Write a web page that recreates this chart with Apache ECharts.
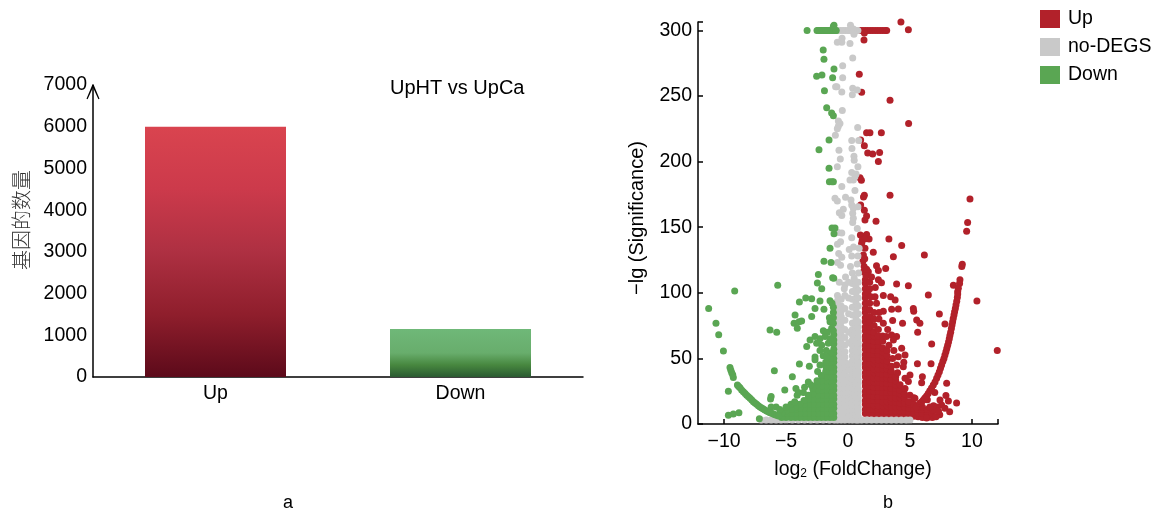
<!DOCTYPE html>
<html><head><meta charset="utf-8">
<script src="https://cdn.jsdelivr.net/npm/echarts@6/dist/echarts.min.js"></script>
<style>html,body{margin:0;padding:0;background:#fff}#c{width:1158px;height:514px}</style>
</head><body><div id="c"></div>
<script>
const barCategories = ['Up','Down'];
const barValues = [6000,1150];
const countTicks = [0,1000,2000,3000,4000,5000,6000,7000];
const fcTicks = [-10,-5,0,5,10];
const sigTicks = [0,50,100,150,200,250,300];

// [x, [y, y, ...]] dense bands
const upBands = [
[1.4,[8,11,15,18,22,25,29,32,36,39,43,46,50,53,57,60,64,67,71,74,78,81,85,88,92,96,99,103,107,110]],
[1.75,[8,11,15,18,22,25,29,32,36,39,43,46,50,53,57,60,64,67,71,74,78,82,87,92,103,108]],
[2.1,[7.5,11,14,18,21,25,28,32,35,39,42,46,49,53,56,60,63,67,70,75,80,85]],
[2.45,[7.5,11,14,18,21,25,28,32,35,39,42,46,49,53,56,60,63,67,72]],
[2.8,[7.5,10,14,17,21,24,28,31,35,38,42,45,49,52,55,58,63,67]],
[3.15,[7,10,14,17,21,24,28,31,35,38,42,45,48,52,56]],
[3.5,[7,10,13,17,20,24,27,31,34,38,40,44]],
[3.85,[7,10,13,17,20,24,27,30,33,36]],
[4.2,[6.5,10,13,16,20,23,26,30]],
[4.55,[6.5,9.5,13,16,20,23]],
[4.9,[6,9,12,15,17]],
[5.3,[6,9,12,15]],
[5.65,[5.5,8.5,11,14]],
[6.0,[5,8,11,13]],
[6.4,[5,8,11]],
[6.8,[5,8]]
];
const upPoints = [
[4.27,306.4],[4.87,300.4],[1.0,300],[1.2,300],[1.4,300],[1.6,300],[1.8,300],[2.0,300],[2.2,300],[2.4,300],[2.6,300],[2.8,300],[3.0,300],[3.12,300],
[1.32,298],[1.29,292.7],[0.91,266.5],[1.1,252.8],[3.39,246.7],[4.89,229],[1.5,222],[1.77,222],[2.69,222],[1.02,216.5],[1.32,212],[1.59,206.6],[1.99,205.8],[2.55,207],[2.45,200],
[0.97,187.7],[1.08,185.7],[1.32,174.3],[1.25,173],[3.39,174.3],[9.84,171.5],[1.02,167],[1.32,163],[1.5,158.5],[1.37,155.5],[2.26,154.5],[9.65,153.6],[9.57,147],
[1.0,144],[1.2,143],[1.5,144.5],[1.7,141],[1.15,140],[1.35,141],[3.3,141],
[1.1,137.7],[1.37,134],[1.24,128.8],[2.04,131],[3.66,127.5],[4.33,136],[6.16,128.8],[9.22,121.7],[9.18,120],[9.03,110],[9.0,107],[8.5,105.7],[8.9,103.4],[8.85,101],[10.4,93.8],[12.04,56],
[2.3,120.7],[3.04,118.6],[2.45,117],[1.64,116],[1.3,120],[1.2,124],[1.25,116],[1.45,113],[1.9,112],[2.7,107.7],[3.92,106.7],[4.87,105.4],[6.48,98.3],[2.18,97],[2.85,98],[3.44,97],[3.8,94.5],[2.3,92],[1.6,100],[1.85,97],[2.2,104],[2.45,110],[1.5,118],[1.35,126],
[5.27,88],[5.3,86],[3.52,87.4],[4.06,87.7],[2.85,86],[2.5,85],[7.37,83.8],[5.54,79.3],[5.8,76.7],[7.82,76.2],[4.4,76.7],[3.6,78.8],[2.85,76.7],[2.5,80],[3.2,72],
[5.62,69.9],[3.52,67.8],[3.92,66.6],[3.66,64],[3.1,66.6],[3.3,60],[6.75,61],[4.33,57.7],[4.6,52.6],[4.06,51.3],[3.7,56],[3.6,50],[4.5,47],
[5.6,46],[6.7,46],[4.46,43.7],[3.92,45],[4.0,39],[5,37.3],[6,36],[5.94,31.5],[7.96,31],[4.6,34.8],[4.87,32.3],[4.6,27],[5.0,22],[5.3,20],[7,24],[7.9,21.8],[5.4,19.6],[6.4,18.5],[7.42,18.3],[8.1,17.5],[8.76,16],[7.55,14.5],[7.82,12],[8.2,9.4],[7.15,13],[6.9,10.2],[7.4,7],[6.34,4.6],[6.9,14],[7.1,5.5],[6.6,13],[7.3,10],
[5.5,13],[5.8,15.8],[5.95,17],[6.08,18.3],[6.2,19.8],[6.34,21.3],[6.47,23.3],[6.6,25.4],[6.74,27.5],[6.88,29.7],[7.02,32],[7.15,34.8],[7.26,37.4],[7.37,39.9],[7.46,42.5],[7.55,45],[7.65,47.6],[7.74,50],[7.82,52.5],[7.9,55],[7.97,57.5],[8.04,60],[8.11,62.5],[8.17,65],[8.22,67.5],[8.28,70],[8.34,72.8],[8.39,75.5],[8.44,78],[8.49,80.5],[8.55,83],[8.6,85.6],[8.66,88],[8.71,90.7],[8.77,93.6],[8.82,96.5],[8.85,99]
];
const noneBands = [
[-0.85,[3,6,10,13,17,20,24,27,31,34,38,41,45,48,52,55,59,62,66,69,73,76,80,84,87,91,94,98]],
[-0.55,[3,6,10,13,17,20,24,27,31,34,38,41,45,48,52,55,59,62,66,70,74,78,82,86,90,95]],
[-0.25,[3,6,10,13,17,20,24,27,31,35,39,43,47,51,55,60,66,72,79,88,98,106]],
[0.05,[3,6,10,13,17,20,24,28,32,36,41,46,62,70,84,96,108]],
[0.35,[3,6,10,13,17,20,24,27,31,34,38,41,45,48,52,56,60,64,68,72,77,83,89,95,101,107]],
[0.65,[3,6,10,13,17,20,24,27,31,34,38,41,45,48,52,55,59,62,66,69,73,76,80,84,88,92,96,100,104,108]],
[0.82,[3,6,10,13,17,20,24,27,31,34,38,41,45,48,52,55,59,62,66,70,74,78,84,90,96,102,108]]
];
const nonePoints = [
[-0.8,300],[-0.6,300],[-0.4,300],[-0.2,300],[0,300],[0.1,300],[0.2,300],[0.3,300],[0.4,300],[0.5,300],[0.6,300],[0.7,300],[0.8,300],[0.2,304],[0.43,301],[0.48,297],
[-0.48,294],[-0.5,291],[-0.86,291],[0.16,290],[0.38,279],[-0.43,273],[-0.43,264],[-0.9,257],[-1.0,257],[0.38,256],[0.75,254.6],[-0.5,253],[0.35,251],
[-0.46,239],[-0.78,231],[-0.65,229],[-0.78,227],[-0.86,225],[0.78,226],[-1.02,220],[0.3,216],[0.86,216],[-0.73,208.6],[0.32,210],[0.48,204],[0.5,201],[-0.62,202],[-0.86,196],[0.8,196],
[0.3,191.6],[0.65,190.5],[0.16,186],[0.43,186],[0.56,188.5],[-0.5,181],[0.56,178],[-1.05,172],[-0.86,170],[-0.2,172.8],[0.24,170.7],[0.3,167],[0.43,164.4],[0.8,165.6],[-0.38,163.6],[-0.7,161],[-0.5,159],[0.38,160.6],[0.43,156.8],[0.38,153.5],[0.75,149],[-0.5,145.6],[-0.8,146],[0.3,142],
[-0.85,137],[-0.6,139],[-0.75,130],[-0.5,127],[-0.85,123],[-0.6,121],[0.1,133],[0.3,128],[0.45,135],[0.9,134],[0.8,128],[0.2,120],[0.35,115],[0.75,122],[0.85,115],[-0.2,112],[-0.7,108],[-0.3,103],[0.5,111],
[-7.0,3],[-6.6,3],[-6.2,3],[-5.8,3],[-5.4,3],[-5,3],[-4.5,3],[-4,3],[-3.5,3],[-3,3],[-2.5,3],[-2,3],[-1.5,3],[-1.1,3],
[1.1,3],[1.5,3],[1.9,3],[2.3,3],[2.7,3],[3.1,3],[3.5,3],[3.9,3],[4.3,3],[4.7,3],[5.0,3]
];
const downBands = [
[-1.15,[5,8,12,15,19,22,26,29,33,36,40,43,47,50,54,57,61,64,68]],
[-1.45,[5,8,12,15,19,22,26,29,33,36,40,43,47,50,54]],
[-1.8,[5,8,12,15,19,22,26,29,33,36,40,44,47]],
[-2.15,[5,8,12,15,19,22,26,29,33,37]],
[-2.5,[5,8,12,15,19,22,26,30,33]],
[-2.85,[5,8,12,15,19,23,27]],
[-3.2,[5,8,12,15,19,22]],
[-3.55,[5,8,12,15,18]],
[-3.9,[5,8,12,15]],
[-4.25,[5,8,11,13]],
[-4.6,[5,8,11]],
[-5,[5,8,10]],
[-5.35,[5,8]]
];
const downPoints = [
[-3.3,300],[-2.5,300],[-2.4,300],[-2.3,300],[-2.2,300],[-2.1,300],[-2.0,300],[-1.9,300],[-1.8,300],[-1.7,300],[-1.6,300],[-1.5,300],[-1.4,300],[-1.3,300],[-1.2,300],[-1.1,300],[-1.0,300],[-0.95,300],[-1.13,304],[-1.18,303],
[-2.0,285],[-1.94,278],[-1.13,270.5],[-2.53,265],[-2.1,266],[-1.24,264],[-1.9,254],[-1.72,241],[-1.32,237],[-1.18,235],[-1.53,216.5],[-2.34,209],[-1.53,195],[-1.5,184.7],[-1.3,184.7],[-1.18,184.7],[-1.29,149.4],[-1.05,149.4],[-1.13,145],
[-1.45,134],[-1.94,124],[-1.37,123],[-2.39,114],[-1.24,111.5],[-1.15,111],[-2.47,107.5],[-2.12,103],[-5.67,105.7],[-9.14,101.4],[-11.24,88],[-10.65,76.7],[-10.43,68],[-10.05,55.6],[-9.65,25],[-9.65,6.6],[-9.25,7.6],[-8.8,8.6],[-7.15,4],
[-3.41,96],[-2.93,95.5],[-3.92,93],[-2.26,93.7],[-1.45,94],[-1.29,92],[-1.18,89],[-1.18,85],[-2.66,88],[-1.94,87.4],[-4.27,83],[-2.93,82],[-1.5,81],[-1.18,81],[-3.74,78.5],[-4.35,76.7],[-3.95,78],[-4.09,73],[-1.45,78],[-1.18,76.7],[-6.29,71.6],[-5.75,69.9],[-1.99,71],[-1.67,70],[-1.32,73],[-1.18,71],
[-2.66,66.6],[-2.26,65],[-3.06,64],[-1.85,66.6],[-1.45,65],[-3.33,59],[-2.53,61.5],[-2.12,60],[-1.59,61.5],[-2.26,56],[-1.75,56],[-2.66,51],[-2.66,49],[-2.0,52],[-1.72,51],[-3.92,45.7],[-3.12,44],[-5.94,40.6],[-4.49,36],[-2.26,45],[-2.45,40],[-3.2,32],[-3.5,28],[-3.0,30],[-4.2,27],[-4.1,22],[-4.0,24],[-5.1,26],[-3.6,24],[-6.2,21],[-6.25,19],[-6.2,13],[-5.8,13],[-5.5,11],[-4.6,15],[-5.0,13],[-4.3,17],
[-9.52,43],[-9.45,41],[-9.38,39],[-9.3,37.5],[-9.25,35.5],[-8.92,29.7],[-8.82,28.6],[-8.71,27.7],[-8.58,26],[-8.44,24.6],[-8.3,23.3],[-8.17,22],[-8.03,20.8],[-7.9,19.6],[-7.76,18.3],[-7.63,17],[-7.5,16],[-7.37,15],[-7.23,14],[-7.1,13],[-6.96,12.2],[-6.83,11.4],[-6.7,10.7],[-6.56,10],[-6.43,9.3],[-6.29,8.6],[-6.15,8.1],[-6.02,7.6],[-5.88,7.1],[-5.75,6.6],[-5.6,6.1]
];

function expand(bands, points){
  const out = [];
  bands.forEach(b => b[1].forEach(y => out.push([b[0], y])));
  return out.concat(points);
}
const ink = '#000';
const font = 'Liberation Sans, Arial, sans-serif';
const barFills = [
  {type:'linear',x:0,y:0,x2:0,y2:1,colorStops:[{offset:0,color:'#d9444f'},{offset:0.25,color:'#cc3a4b'},{offset:0.5,color:'#ae3042'},{offset:0.75,color:'#8f1e2c'},{offset:1,color:'#5c0a1a'}]},
  {type:'linear',x:0,y:0,x2:0,y2:1,colorStops:[{offset:0,color:'#6fb878'},{offset:0.5,color:'#68ad6c'},{offset:0.75,color:'#47873f'},{offset:1,color:'#2a5a31'}]}
];
const chart = echarts.init(document.getElementById('c'), null, {renderer:'canvas'});
chart.setOption({
  animation:false,
  backgroundColor:'#fff',
  textStyle:{fontFamily:font,color:ink},
  title:[
    {text:'UpHT vs UpCa',left:385,top:73,textStyle:{fontFamily:font,fontSize:20,fontWeight:'normal',color:ink}},
    {text:'a',left:278,top:489,textStyle:{fontFamily:font,fontSize:18,fontWeight:'normal',color:ink}},
    {text:'b',left:878,top:489,textStyle:{fontFamily:font,fontSize:18,fontWeight:'normal',color:ink}}
  ],
  legend:{
    orient:'vertical',left:1040,top:9,padding:0,itemWidth:20,itemHeight:18,itemGap:8,
    icon:'rect',
    data:['Up','no-DEGS','Down'],
    textStyle:{fontFamily:font,fontSize:19.5,color:ink,padding:[2,0,0,3]}
  },
  grid:[
    {left:93,top:85,width:490,height:292},
    {left:698,top:22,width:300,height:402}
  ],
  xAxis:[
    {type:'category',gridIndex:0,data:barCategories,
     axisLine:{lineStyle:{color:ink,width:1.5}},axisTick:{show:false},
     axisLabel:{color:ink,fontSize:19.5,fontFamily:font,margin:7}},
    {type:'value',gridIndex:1,min:-12.1,max:12.1,splitLine:{show:false},
     name:'{a|log}{s|2}{a| (FoldChange)}',nameLocation:'middle',nameGap:35,
     nameTextStyle:{padding:[0,0,0,10],rich:{a:{fontSize:19.5,fontFamily:font,color:ink},s:{fontSize:12,fontFamily:font,color:ink,verticalAlign:'bottom',padding:[9,0,0,0]}}},
     axisLine:{onZero:false,lineStyle:{color:ink,width:1.5}},
     axisTick:{show:true,inside:true,length:5,lineStyle:{color:ink,width:1.5},customValues:fcTicks.concat([12.1])},
     axisLabel:{color:ink,fontSize:19.5,fontFamily:font,margin:8,customValues:fcTicks,formatter:v=>String(v).replace('-','\u2212')}}
  ],
  yAxis:[
    {type:'value',gridIndex:0,min:0,max:7000,interval:1000,splitLine:{show:false},
     name:'基因的数量',nameLocation:'middle',nameGap:62,
     nameTextStyle:{fontFamily:'Noto Sans CJK SC',fontSize:20,color:'#333',fontWeight:300,padding:[0,0,0,22]},
     axisLine:{show:true,lineStyle:{color:ink,width:1.5},
       symbol:['none','path://M0 13 L5.4 0 L6.6 0 L12 13 L11 13.5 L6 2.6 L1 13.5 Z'],symbolSize:[13,15],symbolOffset:[0,-7]},
     axisTick:{show:false},
     axisLabel:{color:ink,fontSize:19.5,fontFamily:font,margin:6,formatter:v=>countTicks.includes(v)?String(v):''}},
    {type:'value',gridIndex:1,min:0,max:306.4,splitLine:{show:false},
     name:'\u2212lg (Significance)',nameLocation:'middle',nameGap:51,
     nameTextStyle:{fontFamily:font,fontSize:20,color:ink,padding:[0,0,0,10]},
     axisLine:{show:true,onZero:false,lineStyle:{color:ink,width:1.5}},
     axisTick:{show:true,inside:true,length:5,lineStyle:{color:ink,width:1.5},customValues:sigTicks.concat([306.4])},
     axisLabel:{color:ink,fontSize:19.5,fontFamily:font,margin:6,customValues:sigTicks}}
  ],
  series:[
    {type:'bar',xAxisIndex:0,yAxisIndex:0,barWidth:141,silent:true,
     data:barValues.map((v,i)=>({value:v,itemStyle:{color:barFills[i]}}))},
    {type:'scatter',name:'Up',xAxisIndex:1,yAxisIndex:1,symbolSize:7,clip:false,itemStyle:{color:'#b2212a',opacity:1},data:expand(upBands,upPoints)},
    {type:'scatter',name:'no-DEGS',xAxisIndex:1,yAxisIndex:1,symbolSize:7,clip:false,itemStyle:{color:'#c9c9c9',opacity:1},data:expand(noneBands,nonePoints)},
    {type:'scatter',name:'Down',xAxisIndex:1,yAxisIndex:1,symbolSize:7,clip:false,itemStyle:{color:'#5aa653',opacity:1},data:expand(downBands,downPoints)}
  ]
});
</script></body></html>
